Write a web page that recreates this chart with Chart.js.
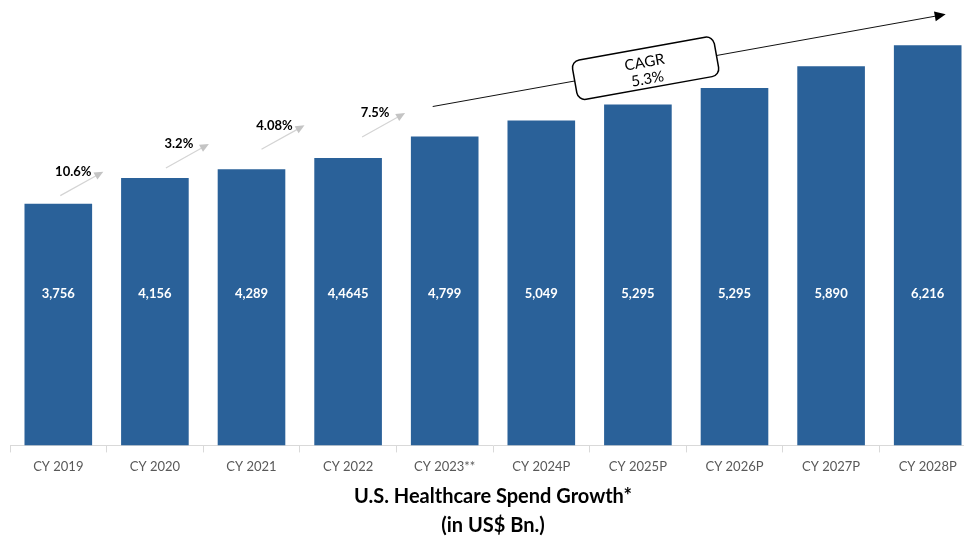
<!DOCTYPE html>
<html>
<head>
<meta charset="utf-8">
<script src="https://cdn.jsdelivr.net/npm/chart.js@4"></script>
<style>
  html, body { margin: 0; padding: 0; background: #fff; overflow: hidden; }
  #wrap { width: 976px; height: 540px; }
</style>
</head>
<body>
<div id="wrap"><canvas id="chart" width="976" height="540"></canvas></div>
<script>
// chart data
const categories = ['CY 2019', 'CY 2020', 'CY 2021', 'CY 2022', 'CY 2023**', 'CY 2024P', 'CY 2025P', 'CY 2026P', 'CY 2027P', 'CY 2028P'];
const spend = [3756, 4156, 4289, 4464.5, 4799, 5049, 5295, 5552, 5890, 6216];
// labels as printed on the bars (source text kept as-is)
const spendLabels = ['3,756', '4,156', '4,289', '4,4645', '4,799', '5,049', '5,295', '5,295', '5,890', '6,216'];
const growthLabels = ['10.6%', '3.2%', '4.08%', '7.5%'];
const cagrLabel = ['CAGR', '5.3%'];

const FONT = 'Lato, "Open Sans", sans-serif';
const BAR_BLUE = '#2a6199';

// draws value labels, growth arrows and the CAGR callout
const annotations = {
  id: 'annotations',
  afterDatasetsDraw(chart) {
    const ctx = chart.ctx;
    const x = chart.scales.x, y = chart.scales.y;
    const cx = i => x.getPixelForValue(i);
    const top = i => y.getPixelForValue(spend[i]);

    // values inside bars
    ctx.save();
    ctx.fillStyle = '#fff';
    ctx.font = 'bold 13px ' + FONT;
    ctx.textAlign = 'center';
    ctx.textBaseline = 'middle';
    const labelY = y.getPixelForValue(2360);
    spendLabels.forEach((t, i) => ctx.fillText(t, cx(i), labelY));
    ctx.restore();

    // small growth arrows
    const lift = [8, 10, 20, 21];
    const startDx = [2, 11, 10, 14];
    growthLabels.forEach((t, i) => {
      const sx = cx(i) + startDx[i], sy = top(i) - lift[i];
      const ex = sx + 43, ey = sy - 24;
      drawArrow(ctx, sx, sy, ex, ey, '#d4d4d4', '#c4c4c4', 1.2, 9);
      ctx.save();
      ctx.fillStyle = '#000';
      ctx.font = 'bold 13px ' + FONT;
      ctx.textAlign = 'center';
      ctx.textBaseline = 'middle';
      ctx.fillText(t, ex - 30, ey);
      ctx.restore();
    });

    // CAGR trend line
    const n = spend.length - 1;
    const ax = cx(4) - 12, ay = top(4) - 30;
    const bx = cx(n) + 18, by = top(n) - 31;
    drawArrow(ctx, ax, ay, bx, by, '#111', '#000', 1, 11);

    const f = 0.415;
    const mx = ax + (bx - ax) * f, my = ay + (by - ay) * f;
    const ang = Math.atan2(by - ay, bx - ax);
    ctx.save();
    ctx.translate(mx, my);
    ctx.rotate(ang);
    ctx.beginPath();
    ctx.roundRect(-72, -20, 144, 40, 8);
    ctx.fillStyle = '#fff';
    ctx.fill();
    ctx.lineWidth = 1.5;
    ctx.strokeStyle = '#000';
    ctx.stroke();
    ctx.fillStyle = '#000';
    ctx.font = '15px ' + FONT;
    ctx.textAlign = 'center';
    ctx.textBaseline = 'middle';
    ctx.fillText(cagrLabel[0], 0, -6);
    ctx.fillText(cagrLabel[1], 0, 11);
    ctx.restore();
  }
};

function drawArrow(ctx, sx, sy, ex, ey, lineColor, headColor, width, head) {
  const ang = Math.atan2(ey - sy, ex - sx);
  ctx.save();
  ctx.strokeStyle = lineColor;
  ctx.lineWidth = width;
  ctx.beginPath();
  ctx.moveTo(sx, sy);
  ctx.lineTo(ex - Math.cos(ang) * head * 0.8, ey - Math.sin(ang) * head * 0.8);
  ctx.stroke();
  ctx.translate(ex, ey);
  ctx.rotate(ang);
  ctx.fillStyle = headColor;
  ctx.beginPath();
  ctx.moveTo(0, 0);
  ctx.lineTo(-head, -head * 0.45);
  ctx.lineTo(-head, head * 0.45);
  ctx.closePath();
  ctx.fill();
  ctx.restore();
}

new Chart(document.getElementById('chart'), {
  type: 'bar',
  data: {
    labels: categories,
    datasets: [{
      data: spend,
      backgroundColor: BAR_BLUE,
      categoryPercentage: 1,
      barPercentage: 0.70
    }]
  },
  options: {
    responsive: false,
    animation: false,
    layout: { padding: { left: 10, right: 0, top: 0, bottom: 0 } },
    plugins: {
      legend: { display: false },
      tooltip: { enabled: false },
      title: {
        display: true,
        position: 'bottom',
        text: ['U.S. Healthcare Spend Growth*', '(in US$ Bn.)'],
        color: '#000',
        font: { family: FONT, size: 20, weight: 'bold', lineHeight: 1.45 },
        padding: { top: 0, bottom: 0 }
      }
    },
    scales: {
      x: {
        border: { color: '#d9d9d9' },
        grid: { display: true, drawOnChartArea: false, tickLength: 7, color: '#d9d9d9', offset: true },
        ticks: { color: '#595959', font: { family: FONT, size: 13 }, padding: 7, maxRotation: 0 }
      },
      y: {
        display: false,
        min: 0,
        max: 6920
      }
    }
  },
  plugins: [annotations]
});
</script>
</body>
</html>
